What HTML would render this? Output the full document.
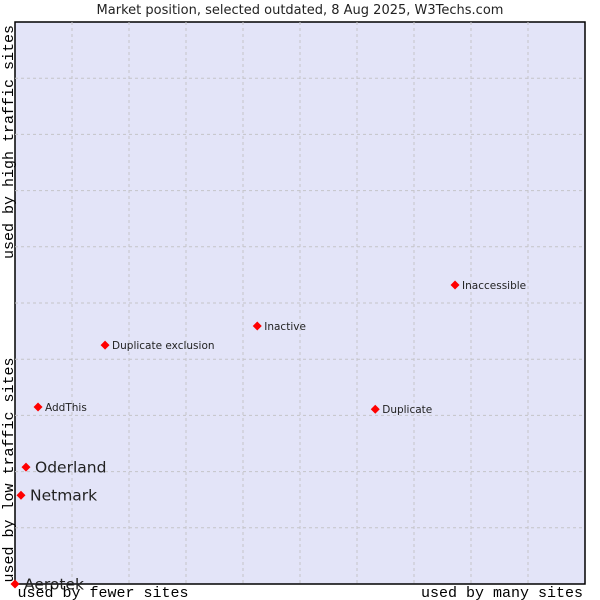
<!DOCTYPE html>
<html><head><meta charset="utf-8"><style>
body{margin:0;background:#fff;}
svg{display:block;}
</style></head><body>
<svg id="chart" width="600" height="600" xmlns="http://www.w3.org/2000/svg">
<text x="300" y="14" text-anchor="middle" font-family="DejaVu Sans, sans-serif" font-size="13" fill="#222">Market position, selected outdated, 8 Aug 2025, W3Techs.com</text>
<rect x="15" y="22" width="570" height="562" fill="#e3e4f8" stroke="#000" stroke-width="1.5"/>
<g id="grid"></g>
<g id="points"></g>
<text x="103" y="597" text-anchor="middle" font-family="Liberation Mono, monospace" font-size="15" fill="#000">used by fewer sites</text>
<text x="502" y="597" text-anchor="middle" font-family="Liberation Mono, monospace" font-size="15" fill="#000">used by many sites</text>
<text transform="translate(13,470) rotate(-90)" text-anchor="middle" font-family="Liberation Mono, monospace" font-size="15" fill="#000">used by low traffic sites</text>
<text transform="translate(13,142) rotate(-90)" text-anchor="middle" font-family="Liberation Mono, monospace" font-size="15" fill="#000">used by high traffic sites</text>
</svg>
<script>
const names = ["Aerotek","Netmark","Oderland","AddThis","Duplicate exclusion","Inactive","Duplicate","Inaccessible"];
const xValues = [0,1.05,1.93,4.04,15.8,42.5,63.2,77.2];
const yValues = [0,15.8,20.8,31.5,42.5,45.9,31.1,53.2];
const bigLabel = [true,true,true,false,false,false,false,false];
const NS="http://www.w3.org/2000/svg";
const X0=15,X1=585,Y0=584,Y1=22;
function sx(v){return X0+(X1-X0)*v/100;}
function sy(v){return Y0-(Y0-Y1)*v/100;}
const grid=document.getElementById('grid');
for(let i=1;i<10;i++){
  const l=document.createElementNS(NS,'line');
  l.setAttribute('x1',sx(i*10));l.setAttribute('x2',sx(i*10));l.setAttribute('y1',Y1);l.setAttribute('y2',Y0);
  l.setAttribute('stroke','#c4c4c8');l.setAttribute('stroke-dasharray','3,3');
  
  
  grid.appendChild(l);
  const h=document.createElementNS(NS,'line');
  h.setAttribute('y1',sy(i*10));h.setAttribute('y2',sy(i*10));h.setAttribute('x1',X0);h.setAttribute('x2',X1);
  h.setAttribute('stroke','#c4c4c8');h.setAttribute('stroke-dasharray','3,3');
  
  
  grid.appendChild(h);
}
const pts=document.getElementById('points');
names.forEach((n,i)=>{
  const x=sx(xValues[i]),y=sy(yValues[i]);
  const p=document.createElementNS(NS,'polygon');
  p.setAttribute('points',`${x},${y-4.5} ${x+4.5},${y} ${x},${y+4.5} ${x-4.5},${y}`);
  p.setAttribute('fill','#f00');
  
  
  pts.appendChild(p);
  const t=document.createElementNS(NS,'text');
  const big=bigLabel[i];
  t.setAttribute('x',x+(big?9:7));
  t.setAttribute('y',y+(big?5.5:4));
  t.setAttribute('font-family','DejaVu Sans, sans-serif');
  t.setAttribute('font-size',big?15.5:10.5);
  t.setAttribute('fill','#222');
  t.textContent=n;
  
  
  pts.appendChild(t);
});
</script>
</body></html>
